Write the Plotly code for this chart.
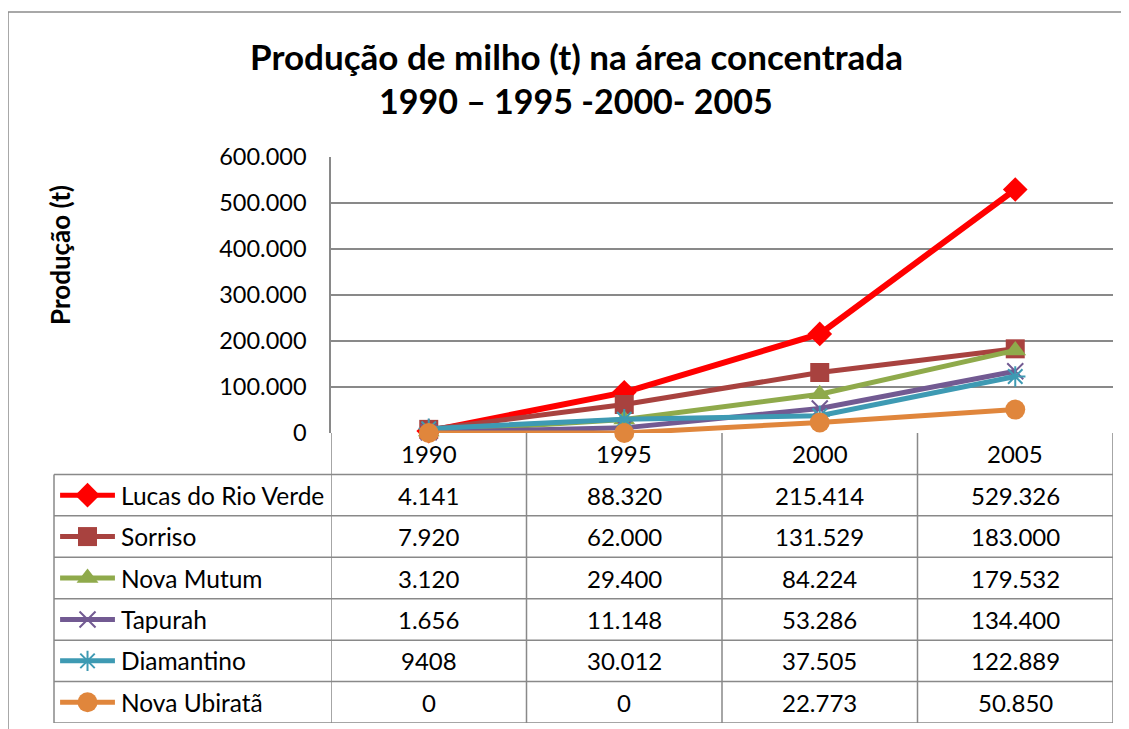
import plotly.graph_objects as go

years = ["1990", "1995", "2000", "2005"]
series_names = ["Lucas do Rio Verde", "Sorriso", "Nova Mutum", "Tapurah", "Diamantino", "Nova Ubiratã"]
lucas = [4141, 88320, 215414, 529326]
sorriso = [7920, 62000, 131529, 183000]
nova_mutum = [3120, 29400, 84224, 179532]
tapurah = [1656, 11148, 53286, 134400]
diamantino = [9408, 30012, 37505, 122889]
nova_ubirata = [0, 0, 22773, 50850]
series_values = [lucas, sorriso, nova_mutum, tapurah, diamantino, nova_ubirata]
y_ticks = [0, 100000, 200000, 300000, 400000, 500000, 600000]
# cells typed without thousands separator in the source table
plain_cells = {("Diamantino", "1990")}

# styles
colors = ["#FF0000", "#A8423F", "#8FAA4B", "#725A92", "#3E9AB3", "#E0863C"]
symbols = ["diamond", "square", "triangle-up", "x-thin-open", "asterisk-open", "circle"]
msizes = [19, 19, 19, 16, 17, 20]
lwidths = [6, 5, 5, 5, 5, 5]
grid = "#898989"
FONT = "Lato"
W, H = 1129, 729
OFF = 8  # page body margin


def px(x):
    return (x - OFF) / W


def py(y):
    return 1 - (y - OFF) / H


def fmt(name, year, v):
    if (name, year) in plain_cells:
        return str(v)
    return f"{v:,}".replace(",", ".")


fig = go.Figure()

# lines in the plot area
for name, vals, c, s, ms, lw in zip(series_names, series_values, colors, symbols, msizes, lwidths):
    open_sym = s.endswith("open")
    fig.add_trace(go.Scatter(
        x=years, y=vals, name=name, mode="lines+markers",
        line=dict(color=c, width=lw),
        marker=dict(symbol=s, size=ms, color=c,
                    line=dict(color=c, width=2 if open_sym else 0)),
        cliponaxis=False, showlegend=False,
    ))

# legend keys inside the data table (left column)
for i, (name, c, s, ms) in enumerate(zip(series_names, colors, symbols, msizes)):
    row = i + 1
    open_sym = s.endswith("open")
    fig.add_trace(go.Scatter(
        x=[0.022, 0.22], y=[row, row], mode="lines",
        line=dict(color=c, width=5), xaxis="x2", yaxis="y2",
        showlegend=False, hoverinfo="skip",
    ))
    fig.add_trace(go.Scatter(
        x=[0.121], y=[row], mode="markers",
        marker=dict(symbol=s, size=ms, color=c,
                    line=dict(color=c, width=2 if open_sym else 0)),
        xaxis="x2", yaxis="y2", showlegend=False, hoverinfo="skip",
    ))

cell_font = dict(size=24, color="black", family=FONT)
annotations = []
# header row with years (category axis -> use the category index)
for j, yr in enumerate(years):
    annotations.append(dict(x=j, y=0, xref="x", yref="y2", text=yr, showarrow=False,
                            xanchor="center", yanchor="middle", font=cell_font))
# table cells
for i, (name, vals) in enumerate(zip(series_names, series_values)):
    row = i + 1
    annotations.append(dict(x=0.235, y=row, xref="x2", yref="y2", text=name, showarrow=False,
                            xanchor="left", yanchor="middle",
                            font=dict(size=24.5, color="black", family=FONT)))
    for j, (yr, v) in enumerate(zip(years, vals)):
        annotations.append(dict(x=j, y=row, xref="x", yref="y2", text=fmt(name, yr, v),
                                showarrow=False, xanchor="center", yanchor="middle",
                                font=cell_font))

# titles
annotations.append(dict(x=px(576), y=py(56), xref="paper", yref="paper",
                        xanchor="center", yanchor="middle",
                        text="<b>Produção de milho (t) na área concentrada</b>", showarrow=False,
                        font=dict(size=35, color="black", family=FONT)))
annotations.append(dict(x=px(576), y=py(100), xref="paper", yref="paper",
                        xanchor="center", yanchor="middle",
                        text="<b>1990 – 1995 -2000- 2005</b>", showarrow=False,
                        font=dict(size=34, color="black", family=FONT)))
annotations.append(dict(x=px(60), y=py(255), xref="paper", yref="paper", textangle=-90,
                        xanchor="center", yanchor="middle",
                        text="<b>Produção (t)</b>", showarrow=False,
                        font=dict(size=26, color="black", family=FONT)))

shapes = []
# chart outer border (right side runs past the image edge)
shapes.append(dict(type="rect", xref="paper", yref="paper", x0=px(8), x1=px(1160),
                   y0=py(760), y1=py(12), line=dict(color="#8c8c8c", width=1.5)))
# table horizontal lines
for k in range(7):
    shapes.append(dict(type="line", xref="paper", yref="y2", x0=px(54), x1=px(1113),
                       y0=k + 0.5, y1=k + 0.5, line=dict(color=grid, width=1.5)))
# table vertical lines between year columns
for k in range(len(years) + 1):
    shapes.append(dict(type="line", xref="x", yref="y2", x0=k - 0.5, x1=k - 0.5,
                       y0=-0.5, y1=6.5, line=dict(color=grid, width=1.5)))
# left edge of the legend column
shapes.append(dict(type="line", xref="paper", yref="y2", x0=px(54), x1=px(54),
                   y0=0.5, y1=6.5, line=dict(color=grid, width=1.5)))

fig.update_layout(
    width=W, height=H, autosize=False,
    margin=dict(l=0, r=0, t=0, b=0, pad=0, autoexpand=False),
    paper_bgcolor="white", plot_bgcolor="white",
    separators=",.",
    font=dict(family=FONT, color="black"),
    xaxis=dict(type="category", categoryorder="array", categoryarray=years,
               range=[-0.5, 3.5], domain=[px(331), px(1113)],
               showgrid=False, showticklabels=False, zeroline=False, showline=False,
               anchor="y", fixedrange=True, automargin=False),
    yaxis=dict(range=[0, 600000], domain=[py(433), py(157)],
               tickvals=y_ticks, tickformat=",d", ticks="",
               tickfont=dict(size=23.5, color="black", family=FONT),
               ticklabelstandoff=18,
               showgrid=True, gridcolor=grid, gridwidth=1.5,
               showline=True, linecolor=grid, linewidth=1.5,
               zeroline=False, anchor="x", fixedrange=True, automargin=False),
    xaxis2=dict(domain=[px(54), px(331)], range=[0, 1], visible=False,
                anchor="y2", fixedrange=True),
    yaxis2=dict(domain=[py(723), py(433)], range=[6.5, -0.5], visible=False,
                anchor="x2", fixedrange=True),
    annotations=annotations,
    shapes=shapes,
)

fig.write_html("out.html")
